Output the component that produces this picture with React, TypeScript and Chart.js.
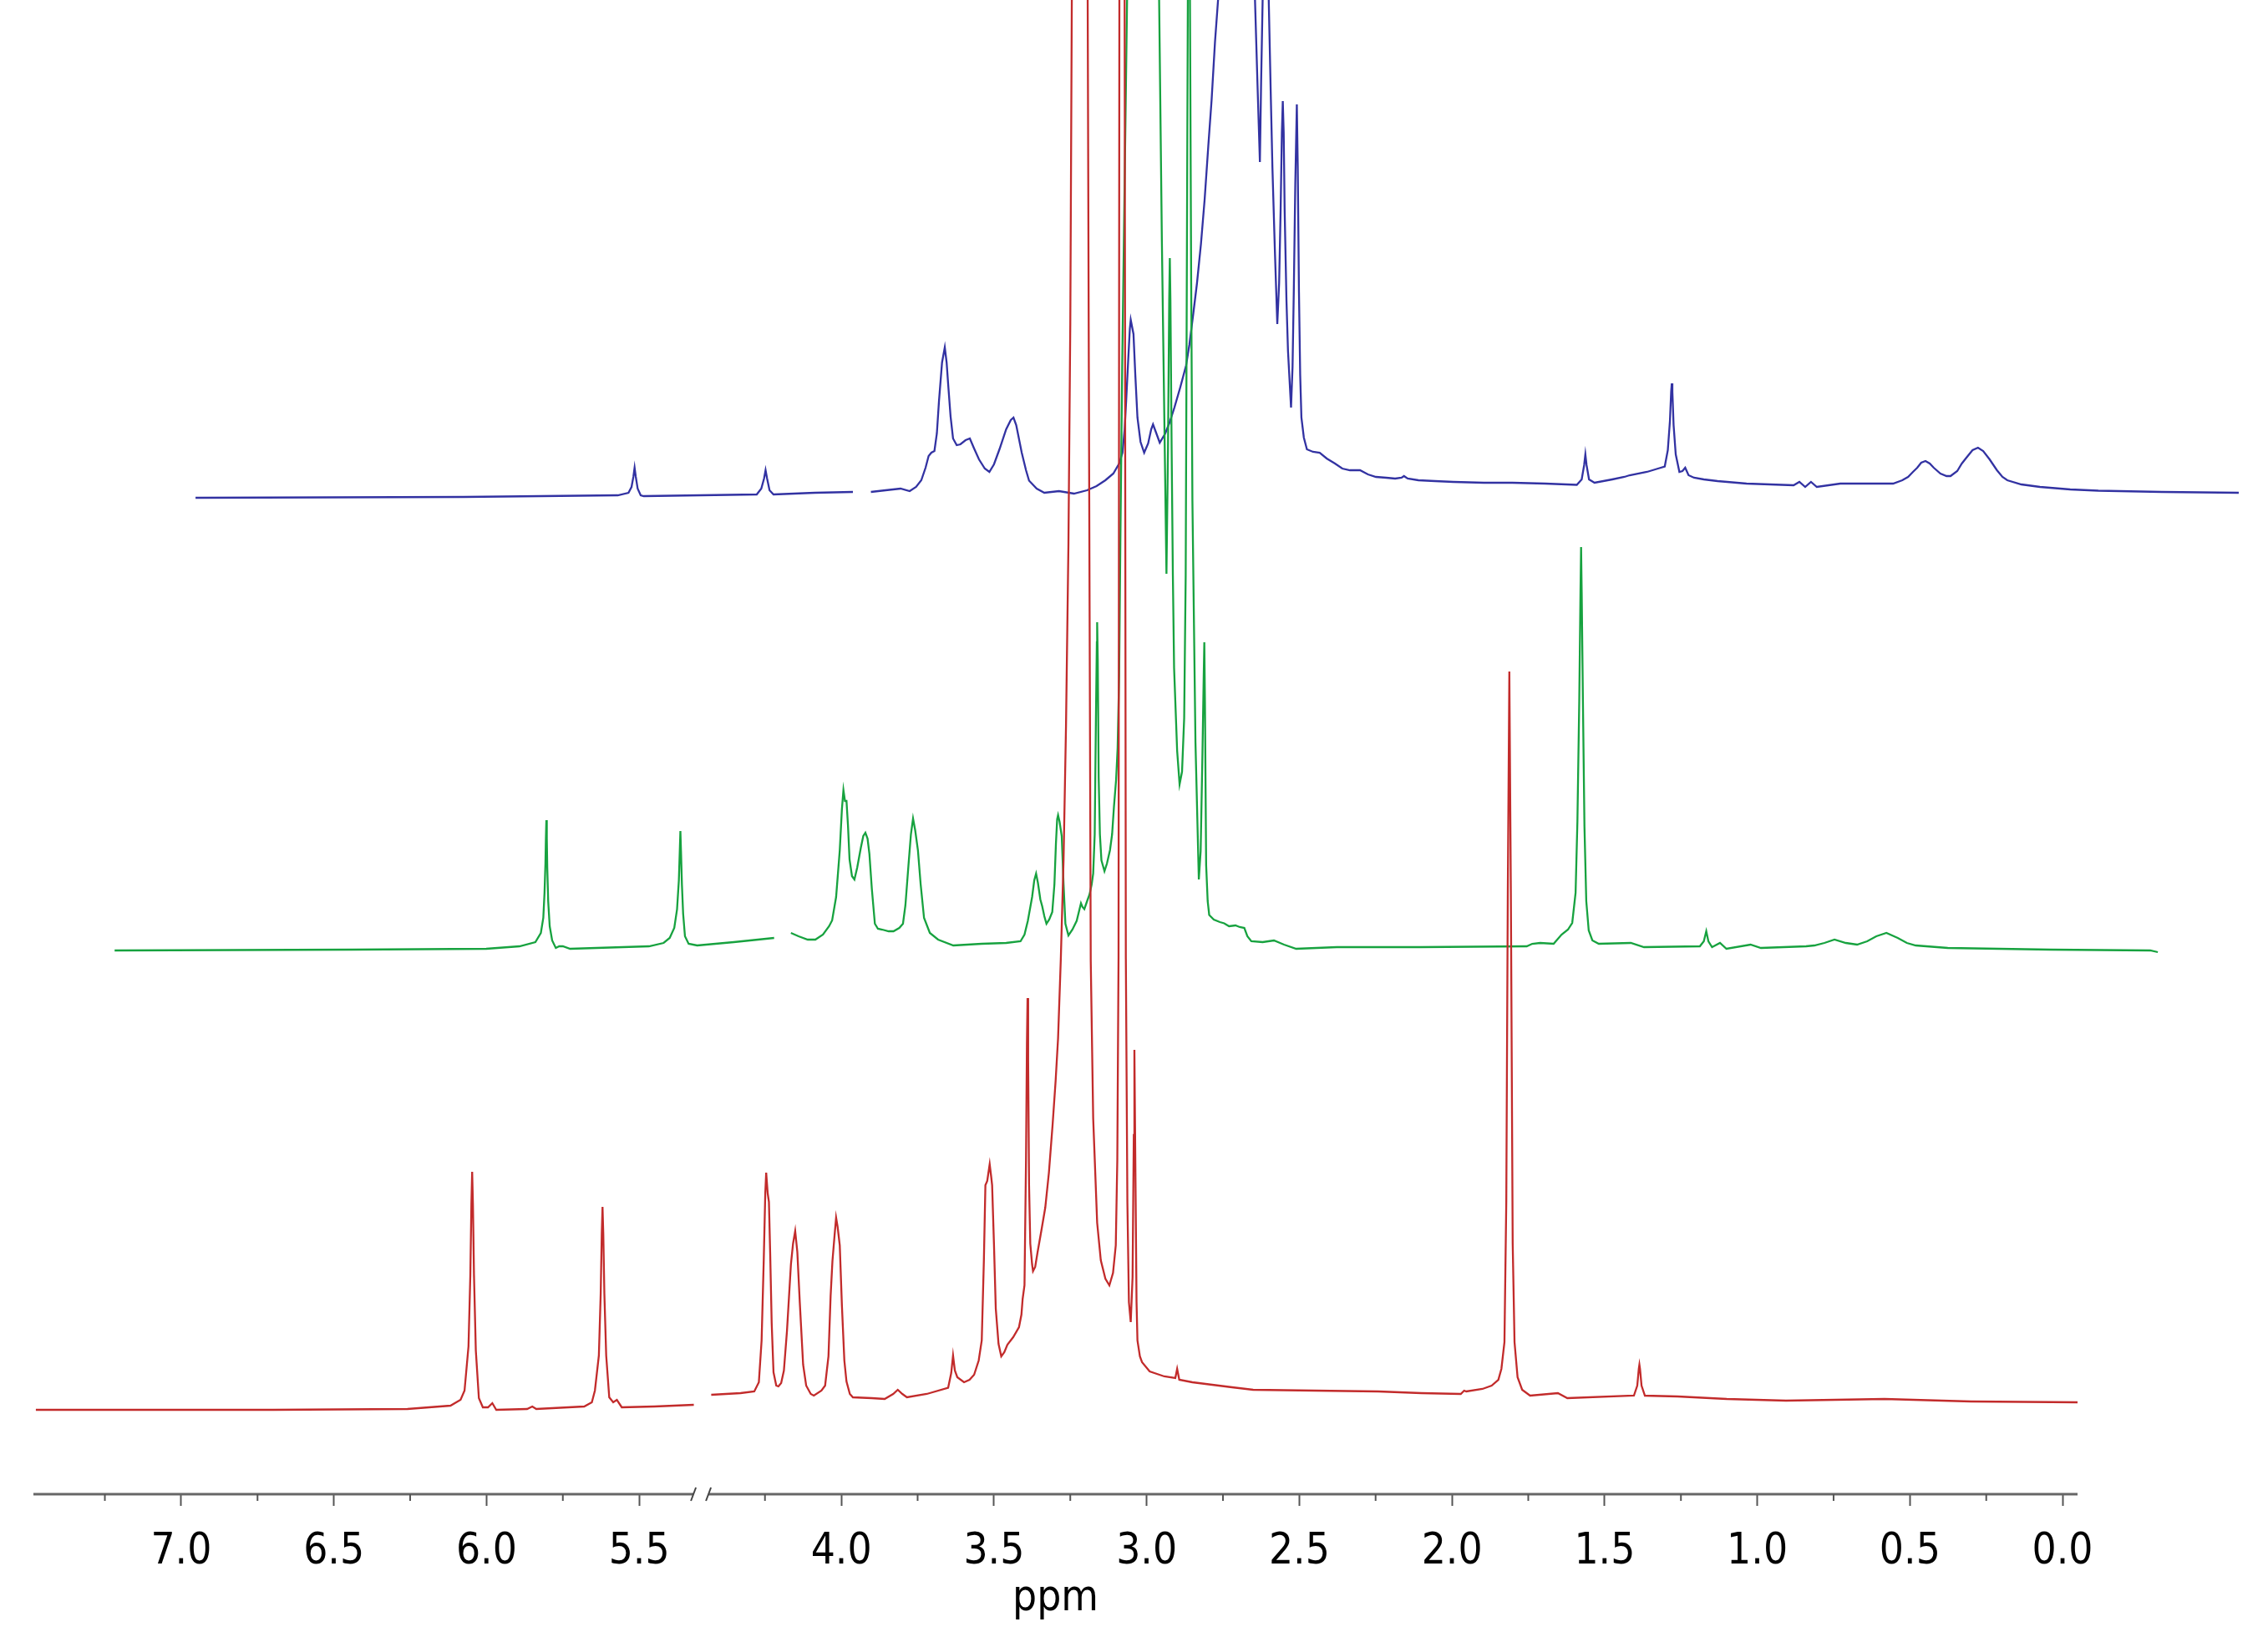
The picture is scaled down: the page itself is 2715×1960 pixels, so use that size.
import React, { useEffect, useRef } from "react";
import { Chart, registerables } from "chart.js";

Chart.register(...registerables);

// ---------- data (ppm, intensity above each trace's own baseline) ----------
const RED_PPM = [
  7.476, 6.7, 6.259, 6.118, 6.085, 6.072, 6.059, 6.053, 6.0495, 6.047, 6.0445, 6.041, 6.035, 6.025,
  6.012, 5.995, 5.981, 5.968, 5.867, 5.85, 5.837, 5.68, 5.655, 5.645, 5.632, 5.626, 5.6225, 5.62,
  5.6175, 5.614, 5.608, 5.598, 5.585, 5.573, 5.557, 5.45, 5.321,
  4.426, 4.33, 4.285, 4.27, 4.261, 4.254, 4.249, 4.246, 4.241, 4.237, 4.233, 4.228, 4.222, 4.213,
  4.206, 4.197, 4.188, 4.178, 4.165, 4.158, 4.151, 4.144, 4.136, 4.125, 4.115, 4.1, 4.09, 4.065,
  4.053, 4.042, 4.035, 4.029, 4.022, 4.017, 4.012, 4.005, 3.998, 3.99, 3.983, 3.972, 3.962, 3.9,
  3.858, 3.83, 3.815, 3.8, 3.785, 3.72, 3.65, 3.64, 3.634, 3.628, 3.62, 3.598, 3.58, 3.565,
  3.55, 3.54, 3.533, 3.528, 3.522, 3.514, 3.509, 3.506, 3.5, 3.494, 3.485, 3.476, 3.466, 3.456,
  3.437, 3.418, 3.41, 3.406, 3.4, 3.395, 3.392, 3.39, 3.388, 3.385, 3.381, 3.375, 3.372, 3.365,
  3.357, 3.345, 3.332, 3.32, 3.308, 3.298, 3.29, 3.281, 3.272, 3.264, 3.256, 3.25, 3.245, 3.22,
  3.193, 3.188, 3.183, 3.175, 3.162, 3.15, 3.135, 3.122, 3.11, 3.101, 3.096, 3.092, 3.082, 3.072,
  3.068, 3.063, 3.058, 3.052, 3.046, 3.042, 3.04, 3.037, 3.033, 3.03, 3.022, 3.015, 2.99, 2.942,
  2.906, 2.9, 2.893, 2.85, 2.796, 2.72, 2.651, 2.45, 2.241, 2.1, 1.971, 1.96, 1.953, 1.9,
  1.87, 1.848, 1.838, 1.828, 1.822, 1.817, 1.812, 1.807, 1.801, 1.795, 1.785, 1.77, 1.744, 1.653,
  1.622, 1.404, 1.393, 1.388, 1.386, 1.384, 1.379, 1.368, 1.261, 1.1, 0.906, 0.583, 0.3, -0.049,
];
const RED_INT = [
  0.1, 0.1, 0.2, 0.6, 1.3, 2.4, 7.7, 16.2, 24.8, 28.6, 24.8, 16.2, 7.2, 1.5,
  0.4, 0.4, 0.9, 0.1, 0.2, 0.5, 0.2, 0.5, 1.0, 2.4, 6.6, 14.0, 21.2, 24.4,
  21.2, 14.0, 6.6, 1.6, 1.0, 1.3, 0.4, 0.5, 0.7,
  1.9, 2.1, 2.3, 3.4, 8.4, 18.0, 26.0, 28.5, 26.0, 25.0, 19.0, 10.5, 4.6, 3.0,
  2.9, 3.3, 4.8, 9.5, 17.5, 20.0, 21.5, 19.0, 13.0, 5.5, 3.0, 2.0, 1.8, 2.4,
  3.0, 6.5, 13.7, 17.9, 21.0, 23.1, 22.0, 19.8, 12.6, 6.0, 3.5, 2.0, 1.6, 1.5,
  1.4, 2.0, 2.5, 2.0, 1.6, 2.0, 2.75, 4.5, 6.6, 4.8, 4.0, 3.4, 3.7, 4.3,
  6.0, 8.4, 18.0, 27.0, 27.5, 29.5, 28.0, 27.0, 20.0, 12.2, 8.0, 6.5, 7.0, 7.9,
  8.8, 10.0, 11.5, 13.4, 15.0, 30.0, 44.0, 49.4, 42.0, 27.0, 20.0, 17.5, 16.7, 17.2,
  19.0, 21.5, 24.3, 28.5, 34.2, 39.5, 44.6, 54.1, 66.0, 82.0, 103.9, 130.0, 168.9, 368.9,
  168.9, 110.0, 53.9, 35.0, 22.5, 18.0, 15.8, 15.0, 16.5, 19.8, 30.0, 54.1, 468.9, 168.9,
  54.1, 25.0, 13.0, 10.6, 16.0, 33.0, 43.2, 30.0, 13.0, 8.4, 6.5, 5.8, 4.7, 4.1,
  3.9, 5.0, 3.7, 3.4, 3.15, 2.8, 2.5, 2.4, 2.3, 2.1, 2.0, 2.4, 2.3, 2.6,
  3.0, 3.7, 5.0, 8.2, 25.0, 62.2, 88.5, 62.0, 20.0, 8.2, 4.0, 2.5, 1.8, 2.1,
  1.5, 1.8, 3.0, 5.0, 5.5, 5.0, 3.0, 1.8, 1.7, 1.4, 1.2, 1.4, 1.1, 1.0,
];

const GREEN_PPM = [
  7.478, 6.7, 6.261, 6.152, 6.1, 6.082, 6.074, 6.07, 6.067, 6.0655, 6.064, 6.0625, 6.061, 6.058,
  6.053, 6.045, 6.033, 6.022, 6.01, 5.986, 5.728, 5.68, 5.66, 5.645, 5.636, 5.63, 5.627, 5.625,
  5.623, 5.62, 5.616, 5.61, 5.598, 5.57, 5.45, 5.318,
  4.425, 4.4, 4.37, 4.345, 4.32, 4.3, 4.29, 4.277, 4.265, 4.258, 4.253, 4.248, 4.243, 4.238,
  4.233, 4.225, 4.217, 4.208, 4.196, 4.188, 4.181, 4.174, 4.168, 4.16, 4.15, 4.14, 4.126, 4.105,
  4.089, 4.07, 4.058, 4.05, 4.04, 4.032, 4.025, 4.018, 4.009, 4.0, 3.989, 3.97, 3.943, 3.893,
  3.8, 3.72, 3.673, 3.66, 3.649, 3.635, 3.628, 3.622, 3.616, 3.608, 3.602, 3.595, 3.588, 3.579,
  3.569, 3.562, 3.557, 3.553, 3.55, 3.545, 3.538, 3.532, 3.526, 3.516, 3.503, 3.489, 3.48, 3.475,
  3.47, 3.464, 3.455, 3.447, 3.44, 3.435, 3.43, 3.426, 3.423, 3.422, 3.42, 3.417, 3.413, 3.408,
  3.398, 3.39, 3.38, 3.373, 3.367, 3.36, 3.355, 3.35, 3.346, 3.34, 3.324, 3.267, 3.219, 3.21,
  3.202, 3.195, 3.19, 3.186, 3.184, 3.182, 3.178, 3.174, 3.17, 3.16, 3.152, 3.144, 3.137, 3.132,
  3.129, 3.125, 3.122, 3.118, 3.114, 3.11, 3.1, 3.089, 3.083, 3.077, 3.073, 3.071, 3.069, 3.065,
  3.06, 3.055, 3.04, 3.02, 3.006, 2.99, 2.969, 2.955, 2.94, 2.93, 2.917, 2.88, 2.843, 2.81,
  2.77, 2.637, 2.364, 2.015, 1.997, 1.971, 1.927, 1.901, 1.88, 1.866, 1.855, 1.849, 1.843, 1.839,
  1.837, 1.835, 1.831, 1.826, 1.82, 1.812, 1.8, 1.779, 1.674, 1.631, 1.448, 1.435, 1.427, 1.42,
  1.408, 1.382, 1.361, 1.282, 1.248, 1.1, 1.073, 1.04, 1.007, 0.97, 0.933, 0.9, 0.87, 0.837,
  0.8, 0.77, 0.741, 0.636, 0.3, -0.027, -0.052,
];
const GREEN_INT = [
  0.1, 0.2, 0.3, 0.6, 1.1, 2.2, 4.0, 7.0, 10.5, 13.5, 15.7, 13.5, 10.0, 6.0,
  3.0, 1.3, 0.4, 0.6, 0.6, 0.3, 0.6, 1.0, 1.6, 2.8, 5.0, 8.5, 12.0, 14.4,
  12.0, 8.0, 4.5, 1.8, 0.9, 0.7, 1.1, 1.6,
  2.2, 1.8, 1.4, 1.4, 2.0, 3.0, 3.7, 6.5, 12.1, 17.0, 19.3, 18.0, 18.0, 15.0,
  11.0, 9.0, 8.6, 10.0, 12.4, 13.8, 14.2, 13.5, 11.7, 7.5, 3.3, 2.7, 2.6, 2.4,
  2.4, 2.8, 3.3, 5.5, 10.3, 14.0, 15.9, 14.5, 12.1, 8.0, 4.0, 2.2, 1.4, 0.7,
  0.9, 1.0, 1.2, 2.0, 3.65, 6.5, 8.5, 9.3, 8.2, 6.2, 5.4, 4.2, 3.3, 3.8,
  4.7, 8.0, 12.9, 15.8, 16.3, 15.5, 13.8, 8.0, 3.3, 1.9, 2.6, 3.65, 5.0, 5.75,
  5.3, 5.05, 6.0, 6.8, 8.0, 9.3, 14.0, 28.0, 37.0, 39.4, 35.0, 20.8, 14.0, 10.9,
  9.6, 10.5, 12.1, 14.0, 17.3, 20.5, 24.3, 33.0, 48.9, 70.0, 113.9, 263.9, 113.9, 85.0,
  63.9, 45.2, 60.0, 78.0, 83.0, 78.0, 60.0, 45.0, 33.9, 24.0, 20.0, 21.5, 27.9, 45.0,
  73.9, 113.9, 363.9, 113.9, 80.0, 53.9, 25.0, 8.6, 12.0, 23.9, 33.0, 37.0, 30.0, 10.3,
  6.0, 4.35, 3.8, 3.5, 3.35, 3.0, 3.1, 2.9, 2.8, 1.8, 1.2, 1.1, 1.3, 0.8,
  0.3, 0.5, 0.5, 0.6, 0.9, 1.0, 0.9, 2.0, 2.6, 3.4, 7.0, 15.6, 30.0, 43.0,
  48.4, 43.0, 30.0, 15.0, 6.0, 2.5, 1.3, 0.9, 1.0, 0.5, 0.6, 1.2, 2.4, 1.2,
  0.5, 1.0, 0.3, 0.8, 0.4, 0.6, 0.7, 1.0, 1.4, 1.0, 0.8, 1.2, 1.8, 2.2,
  1.6, 1.0, 0.7, 0.4, 0.2, 0.1, -0.1,
];

const BLUE_PPM = [
  7.478, 6.6, 6.095, 6.06, 6.05, 6.044, 6.04, 6.036, 6.03, 6.02, 6.01, 5.64, 5.625, 5.616,
  5.611, 5.606, 5.598, 5.585, 5.45, 5.325,
  4.428, 4.38, 4.331, 4.301, 4.28, 4.263, 4.249, 4.239, 4.23, 4.22, 4.212, 4.205, 4.195, 4.186,
  4.18, 4.175, 4.167, 4.159, 4.147, 4.135, 4.118, 4.104, 4.09, 4.074, 4.055, 4.04, 4.025, 4.007,
  3.985, 3.97, 3.961, 3.952, 3.934, 3.92, 3.91, 3.885, 3.86, 3.812, 3.763, 3.72, 3.689, 3.66,
  3.634, 3.615, 3.604, 3.597, 3.592, 3.585, 3.58, 3.577, 3.568, 3.562, 3.555, 3.545, 3.533, 3.52,
  3.51, 3.504, 3.495, 3.482, 3.464, 3.45, 3.434, 3.415, 3.396, 3.385, 3.372, 3.36, 3.347, 3.335,
  3.323, 3.312, 3.301, 3.291, 3.237, 3.17, 3.162, 3.154, 3.15, 3.145, 3.138, 3.125, 3.118, 3.113,
  3.105, 3.097, 3.091, 3.086, 3.082, 3.079, 3.076, 3.073, 3.067, 3.062, 3.052, 3.047, 3.043, 3.038,
  3.033, 3.03, 3.026, 3.022, 3.018, 3.01, 3.0, 2.98, 2.958, 2.935, 2.908, 2.884, 2.859, 2.826,
  2.8, 2.774, 2.74, 2.711, 2.69, 2.682, 2.67, 2.635, 2.58, 2.52, 2.42, 2.327, 2.22, 2.116,
  2.1, 2.092, 2.088, 2.084, 2.076, 2.058, 2.0, 1.96, 1.943, 1.886, 1.85, 1.828, 1.818, 1.811,
  1.807, 1.805, 1.803, 1.799, 1.792, 1.78, 1.77, 1.761, 1.75, 1.732, 1.7, 1.655, 1.56, 1.406,
  1.387, 1.368, 1.349, 1.33, 1.253, 1.12, 1.08, 1.05, 1.031, 1.015, 1.001, 0.988, 0.974, 0.96,
  0.947, 0.925, 0.905, 0.892, 0.87, 0.855, 0.84, 0.82, 0.802, 0.785, 0.764, 0.74, 0.722, 0.706,
  0.66, 0.599, 0.5, 0.408, 0.2, -0.052,
];
const BLUE_INT = [
  0.3, 0.4, 0.6, 0.9, 1.6, 2.8, 3.9, 2.8, 1.4, 0.6, 0.5, 0.7, 1.4, 2.6,
  3.6, 2.6, 1.2, 0.7, 0.9, 1.0,
  1.0, 1.2, 1.4, 1.1, 1.6, 2.4, 3.9, 5.3, 5.7, 5.9, 8.0, 11.9, 16.5, 18.3,
  16.5, 13.9, 10.0, 7.4, 6.6, 6.7, 7.2, 7.4, 6.2, 4.9, 3.8, 3.4, 4.3, 6.1,
  8.5, 9.6, 9.9, 9.0, 5.7, 3.6, 2.35, 1.4, 0.9, 1.1, 0.8, 1.2, 1.7, 2.4,
  3.2, 4.4, 5.7, 8.5, 11.9, 17.0, 20.5, 21.6, 19.9, 15.0, 9.9, 7.0, 5.7, 6.8,
  8.5, 9.1, 8.2, 6.9, 8.0, 9.3, 11.1, 13.5, 16.1, 18.6, 22.4, 26.0, 30.7, 36.0,
  42.4, 48.0, 54.9, 59.9, 139.9, 59.9, 50.0, 40.5, 50.0, 59.9, 89.9, 59.9, 48.0, 39.9,
  30.0, 21.1, 26.0, 34.9, 44.0, 47.8, 44.0, 34.9, 24.0, 17.9, 11.1, 16.0, 24.9, 38.0,
  47.4, 40.0, 24.9, 15.0, 9.9, 7.5, 6.1, 5.8, 5.7, 5.0, 4.4, 3.8, 3.6, 3.6,
  3.1, 2.8, 2.7, 2.6, 2.7, 2.9, 2.6, 2.4, 2.3, 2.2, 2.1, 2.1, 2.0, 1.85,
  2.5, 4.2, 5.5, 4.2, 2.5, 2.1, 2.5, 2.8, 3.0, 3.4, 3.8, 4.05, 6.0, 9.5,
  13.0, 14.0, 13.0, 9.0, 5.5, 3.4, 3.5, 3.9, 3.0, 2.7, 2.5, 2.3, 2.0, 1.8,
  2.2, 1.6, 2.2, 1.6, 2.0, 2.0, 2.0, 2.4, 2.8, 3.4, 3.9, 4.5, 4.7, 4.4,
  3.9, 3.2, 2.9, 2.9, 3.5, 4.4, 5.1, 6.0, 6.3, 5.9, 4.9, 3.6, 2.8, 2.4,
  1.9, 1.6, 1.3, 1.15, 1.0, 0.9,
];

// stacked-plot arrangement: horizontal shift (ppm) and vertical offset of each trace
const TRACE_NAMES = ["red", "green", "blue"];
const TRACE_COLORS = ["#c22b2b", "#17a23f", "#3232a2"];
const TRACE_SHIFT = [0, 0.26, 0.525];
const TRACE_OFFSET = [10, 65, 119];

// axis
const MAJOR_TICKS = [7.0, 6.5, 6.0, 5.5, 4.0, 3.5, 3.0, 2.5, 2.0, 1.5, 1.0, 0.5, 0.0];
const MINOR_TICKS = [7.25, 6.75, 6.25, 5.75, 4.25, 3.75, 3.25, 2.75, 2.25, 1.75, 1.25, 0.75, 0.25];
const BREAK_LOW = 4.457;
const BREAK_HIGH = 5.295;
const X_MIN_PPM = -0.049;
const X_MAX_PPM = 7.484;
const Y_MAX = 178.9;

const GAP = BREAK_HIGH - BREAK_LOW;
const toAxis = (ppm: number) => (ppm >= BREAK_HIGH ? ppm - GAP : ppm);
const fromAxis = (v: number) => (v > BREAK_LOW + 1e-9 ? v + GAP : v);

function buildSeries(ppm: number[], inten: number[], shift: number, offset: number) {
  const out: { x: number; y: number | null }[] = [];
  for (let i = 0; i < ppm.length; i++) {
    if (i > 0 && ppm[i - 1] >= BREAK_HIGH && ppm[i] <= BREAK_LOW) {
      out.push({ x: (toAxis(ppm[i - 1]) + toAxis(ppm[i])) / 2 - shift, y: null });
    }
    out.push({ x: toAxis(ppm[i]) - shift, y: inten[i] + offset });
  }
  return out;
}

const FONT = "'DejaVu Sans Condensed', 'DejaVu Sans', sans-serif";

const brokenAxisPlugin = {
  id: "brokenAxis",
  afterDraw(chart: any) {
    const xs = chart.scales.x;
    const ctx = chart.ctx as CanvasRenderingContext2D;
    const y = chart.chartArea.bottom;
    const bp = xs.getPixelForValue(BREAK_LOW);
    ctx.save();
    ctx.strokeStyle = "#666";
    ctx.lineWidth = 3;
    ctx.beginPath();
    ctx.moveTo(xs.left, y);
    ctx.lineTo(bp - 10, y);
    ctx.moveTo(bp + 8, y);
    ctx.lineTo(xs.right, y);
    ctx.stroke();
    ctx.strokeStyle = "#444";
    ctx.lineWidth = 2;
    for (const dx of [-10, 8]) {
      ctx.beginPath();
      ctx.moveTo(bp + dx - 3, y + 8);
      ctx.lineTo(bp + dx + 3, y - 8);
      ctx.stroke();
    }
    ctx.strokeStyle = "#555";
    ctx.lineWidth = 2;
    for (const m of MINOR_TICKS) {
      const px = xs.getPixelForValue(toAxis(m));
      ctx.beginPath();
      ctx.moveTo(px, y);
      ctx.lineTo(px, y + 8);
      ctx.stroke();
    }
    ctx.restore();
  },
};

export default function App() {
  const ref = useRef<HTMLCanvasElement | null>(null);

  useEffect(() => {
    if (!ref.current) return;
    const series = [
      [RED_PPM, RED_INT],
      [GREEN_PPM, GREEN_INT],
      [BLUE_PPM, BLUE_INT],
    ];
    const datasets = series.map(([p, v], i) => ({
      label: TRACE_NAMES[i],
      data: buildSeries(p as number[], v as number[], TRACE_SHIFT[i], TRACE_OFFSET[i]),
      borderColor: TRACE_COLORS[i],
      borderWidth: 2.3,
      pointRadius: 0,
      tension: 0,
      fill: false,
      spanGaps: false,
      clip: false,
    }));

    const chart = new Chart(ref.current, {
      type: "line",
      data: { datasets: datasets as any },
      options: {
        animation: false,
        responsive: false,
        devicePixelRatio: 1,
        events: [],
        layout: { padding: { left: 40, right: 228, top: 0, bottom: 0 } },
        plugins: { legend: { display: false }, tooltip: { enabled: false } },
        scales: {
          x: {
            type: "linear",
            reverse: true,
            min: toAxis(X_MIN_PPM),
            max: toAxis(X_MAX_PPM),
            afterBuildTicks: (s: any) => {
              s.ticks = MAJOR_TICKS.map((t) => ({ value: toAxis(t) }));
            },
            afterFit: (s: any) => {
              s.height = 171;
            },
            border: { display: false },
            grid: {
              drawOnChartArea: false,
              drawTicks: true,
              tickLength: 14,
              tickColor: "#555",
              tickWidth: 2,
            },
            ticks: {
              autoSkip: false,
              maxRotation: 0,
              minRotation: 0,
              padding: 25,
              color: "#000",
              font: { family: FONT, size: 51 },
              callback: (v: any) => fromAxis(Number(v)).toFixed(1),
            },
            title: {
              display: true,
              text: "ppm",
              color: "#000",
              font: { family: FONT, size: 51 },
              padding: { top: 0, bottom: 15 },
            },
          },
          y: { display: false, min: 0, max: Y_MAX },
        },
      },
      plugins: [brokenAxisPlugin],
    });
    return () => chart.destroy();
  }, []);

  return (
    <div style={{ position: "absolute", left: 0, top: 0, width: 2715, height: 1960, background: "#fff" }}>
      <canvas ref={ref} width={2715} height={1960} style={{ display: "block" }} />
    </div>
  );
}
